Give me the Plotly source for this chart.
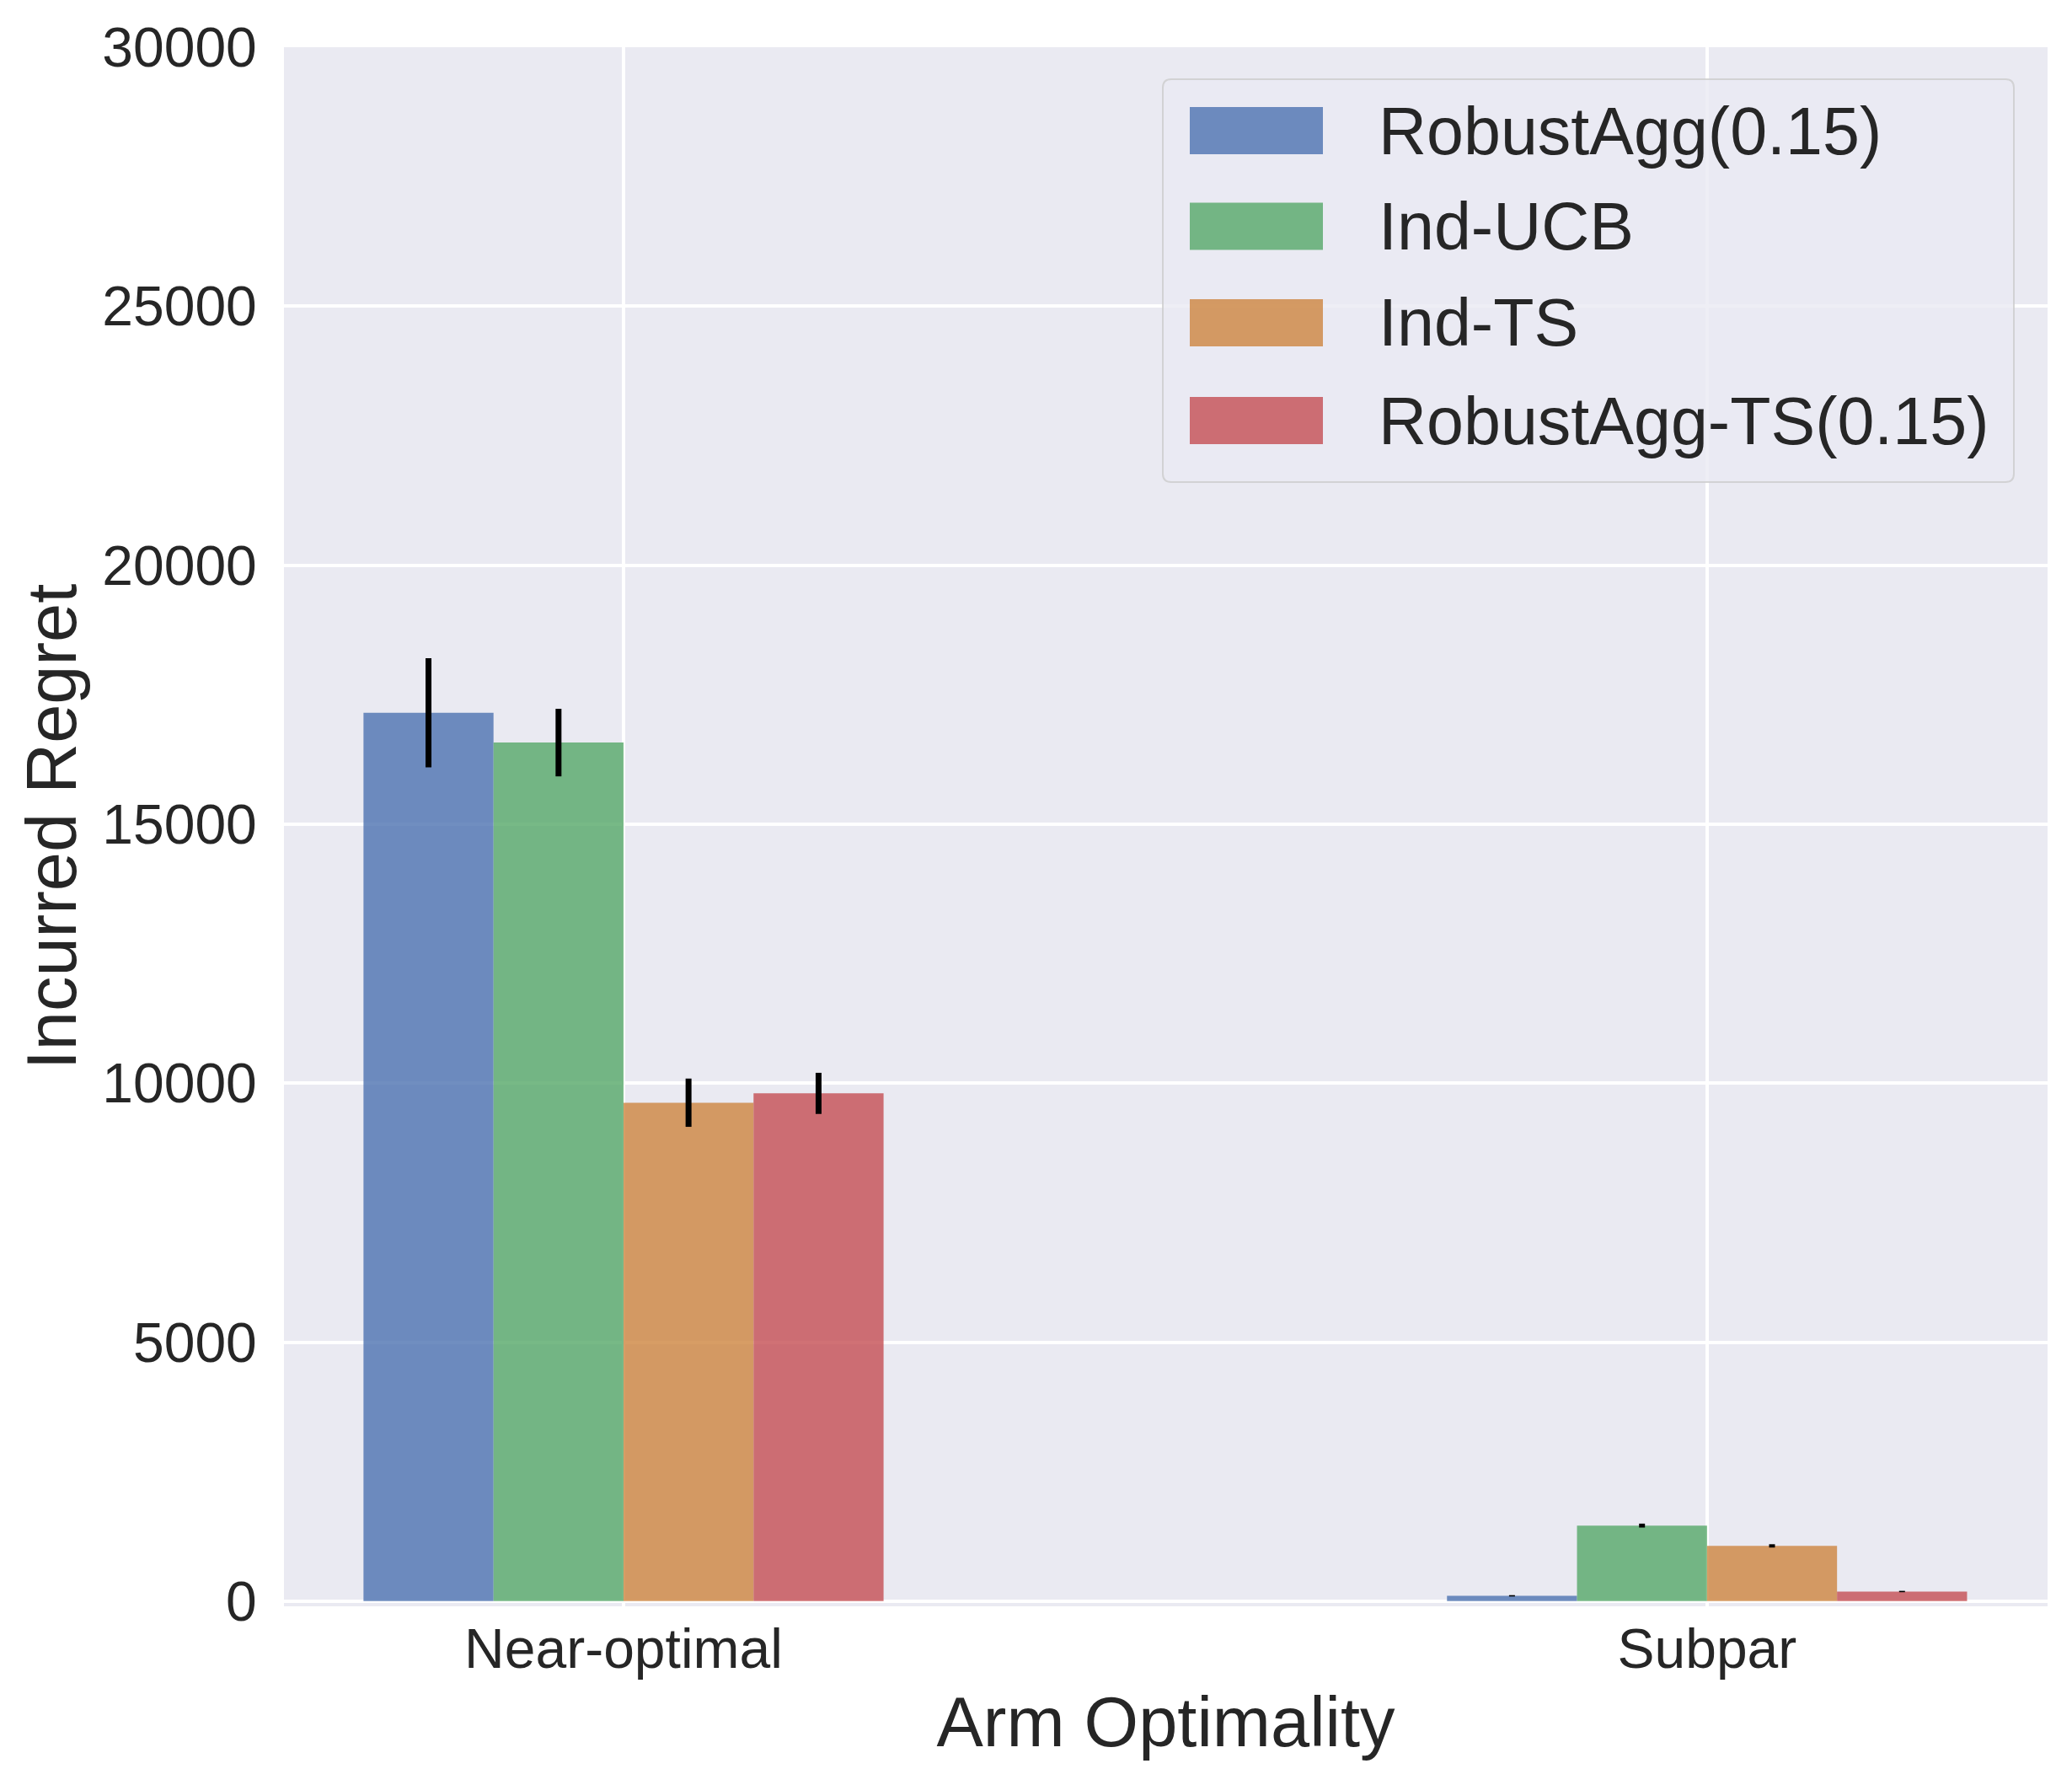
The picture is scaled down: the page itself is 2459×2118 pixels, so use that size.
import plotly.graph_objects as go

# --- data ---
categories = ["Near-optimal", "Subpar"]
methods = ["RobustAgg(0.15)", "Ind-UCB", "Ind-TS", "RobustAgg-TS(0.15)"]
regret_near = [17150, 16575, 9623, 9803]
err_near = [1053, 652, 466, 397]
regret_sub = [103, 1459, 1067, 186]
err_sub = [13, 38, 32, 13]
y_ticks = [0, 5000, 10000, 15000, 20000, 25000, 30000]

# seaborn blue / green, peru, seaborn red, all at alpha 0.8
colors = ["rgba(76,114,176,0.8)", "rgba(85,168,104,0.8)",
          "rgba(205,133,63,0.8)", "rgba(196,78,82,0.8)"]

# page is offset by the 8px body margin
OFF = 8
W, H = 2459 - OFF, 2118 - OFF
L, R, T, B = 337, 2430, 56, 1906   # plot area in page pixels
FONT = "Arial, Liberation Sans, sans-serif"
TXT = "#262626"


def px_x(px):
    return (px - L) / (R - L)


def px_y(py):
    return (B - py) / (B - T)


fig = go.Figure()
for i, name in enumerate(methods):
    fig.add_trace(go.Bar(
        x=categories, y=[regret_near[i], regret_sub[i]], name=name,
        marker=dict(color=colors[i], line=dict(width=0)),
        error_y=dict(type="data", array=[err_near[i], err_sub[i]],
                     color="black", thickness=7, width=0),
        showlegend=False,
    ))

# --- hand-made legend, matplotlib style ---
bx0, bx1, by0, by1 = px_x(1380), px_x(2390), px_y(94), px_y(572)
rx, ry = 10 / (R - L), 10 / (B - T)
path = (f"M {bx0+rx},{by0} L {bx1-rx},{by0} Q {bx1},{by0} {bx1},{by0-ry} "
        f"L {bx1},{by1+ry} Q {bx1},{by1} {bx1-rx},{by1} L {bx0+rx},{by1} "
        f"Q {bx0},{by1} {bx0},{by1+ry} L {bx0},{by0-ry} Q {bx0},{by0} {bx0+rx},{by0} Z")
shapes = [dict(type="path", path=path, xref="paper", yref="paper",
               fillcolor="rgba(234,234,242,0.8)",
               line=dict(color="rgba(204,204,204,0.8)", width=2), layer="above")]
annotations = []
rows = [155, 268.6, 383, 499]
for i, name in enumerate(methods):
    cy = rows[i]
    shapes.append(dict(type="rect", xref="paper", yref="paper",
                       x0=px_x(1412), x1=px_x(1570), y0=px_y(cy - 28), y1=px_y(cy + 28),
                       fillcolor=colors[i], line=dict(width=0), layer="above"))
    annotations.append(dict(x=px_x(1634), y=px_y(cy), xref="paper", yref="paper",
                            text=name, showarrow=False, xanchor="left", yanchor="middle",
                            font=dict(size=79, color=TXT, family=FONT)))

fig.update_layout(
    width=W, height=H,
    margin=dict(l=L - OFF, r=W - (R - OFF), t=T - OFF, b=H - (B - OFF), pad=0),
    paper_bgcolor="white", plot_bgcolor="#EAEAF2",
    barmode="group", bargap=0.52, bargroupgap=0,
    font=dict(family=FONT, color=TXT),
    shapes=shapes, annotations=annotations,
    xaxis=dict(
        range=[-0.3134, 1.3143], showgrid=True, gridcolor="white", gridwidth=3.5,
        zeroline=False, showline=False, ticks="", ticklabelstandoff=6,
        tickfont=dict(size=66, color=TXT),
        title=dict(text="Arm Optimality", font=dict(size=83, color=TXT), standoff=21),
        automargin=False,
    ),
    yaxis=dict(
        range=[-100, 30000], tickvals=y_ticks, ticktext=[str(v) for v in y_ticks],
        showgrid=True, gridcolor="white", gridwidth=3.5,
        zeroline=False, showline=False,
        ticks="outside", ticklen=18, tickcolor="rgba(0,0,0,0)",
        tickfont=dict(size=66, color=TXT),
        title=dict(text="Incurred Regret", font=dict(size=83, color=TXT), standoff=3),
        automargin=False,
    ),
)

fig.write_html("out.html")
